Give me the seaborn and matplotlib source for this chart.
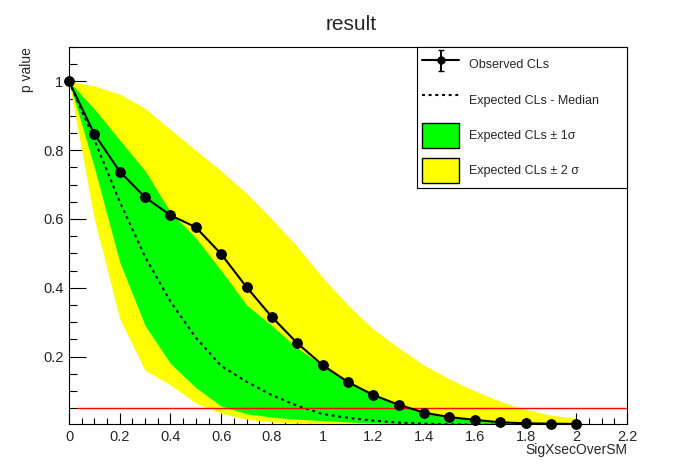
import numpy as np
import pandas as pd
import seaborn as sns
import matplotlib
matplotlib.use("Agg")
from matplotlib import pyplot as plt
from matplotlib.patches import Patch
from matplotlib.lines import Line2D
from matplotlib.legend_handler import HandlerErrorbar
from matplotlib.ticker import MultipleLocator, FuncFormatter

# values -----------------------------------------------------------------------
mu = [0.0, 0.1, 0.2, 0.3, 0.4, 0.5, 0.6, 0.7, 0.8, 0.9, 1.0,
      1.1, 1.2, 1.3, 1.4, 1.5, 1.6, 1.7, 1.8, 1.9, 2.0]
observed = [1.0, 0.847, 0.738, 0.663, 0.611, 0.576, 0.498, 0.402, 0.315, 0.239, 0.175,
            0.126, 0.088, 0.060, 0.037, 0.024, 0.016, 0.009, 0.006, 0.005, 0.004]
expected_median = [1.0, 0.83, 0.65, 0.49, 0.36, 0.255, 0.173, 0.127, 0.088, 0.057, 0.033,
                   0.022, 0.014, 0.008, 0.005, 0.003, 0.002, 0.0015, 0.001, 0.0007, 0.0005]
band_1s_low = [1.0, 0.75, 0.475, 0.29, 0.18, 0.11, 0.056, 0.034, 0.024, 0.018, 0.014,
               0.010, 0.007, 0.005, 0.003, 0.002, 0.0015, 0.001, 0.001, 0.0008, 0.0005]
band_1s_high = [1.0, 0.92, 0.83, 0.74, 0.62, 0.545, 0.45, 0.35, 0.29, 0.225, 0.175,
                0.125, 0.095, 0.060, 0.040, 0.025, 0.015, 0.009, 0.005, 0.003, 0.002]
band_2s_low = [1.0, 0.60, 0.31, 0.16, 0.118, 0.065, 0.035, 0.018, 0.010, 0.007, 0.005,
               0.004, 0.003, 0.002, 0.0015, 0.001, 0.001, 0.0008, 0.0005, 0.0004, 0.0003]
band_2s_high = [1.0, 0.987, 0.963, 0.922, 0.86, 0.80, 0.74, 0.675, 0.60, 0.52, 0.43,
                0.35, 0.28, 0.225, 0.175, 0.135, 0.10, 0.07, 0.046, 0.03, 0.02]
cl_level = 0.05

labels = ["Observed CLs", "Expected CLs - Median",
          "Expected CLs \u00b1 1\u03c3", "Expected CLs \u00b1 2 \u03c3"]

df = pd.DataFrame({"mu": mu, "obs": observed, "med": expected_median})

# style ------------------------------------------------------------------------
sns.set_style("ticks")
plt.rcParams["font.family"] = ["Liberation Sans", "DejaVu Sans"]

fig = plt.figure(figsize=(6.96, 4.72), dpi=100)
ax = fig.add_axes([69 / 696, 1 - 424 / 472, 558 / 696, 377 / 472])

ax.fill_between(df["mu"], band_2s_low, band_2s_high, color="#ffff00", lw=0)
ax.fill_between(df["mu"], band_1s_low, band_1s_high, color="#00ff00", lw=0)
sns.lineplot(data=df, x="mu", y="med", ax=ax, color="black", lw=1.5,
             linestyle=(0, (1.4, 1.8)))
ax.axhline(cl_level, xmin=0.015, color="red", lw=1)
sns.lineplot(data=df, x="mu", y="obs", ax=ax, color="black", lw=1.5,
             marker="o", markersize=7, markeredgecolor="black", clip_on=False)

ax.set_xlim(0, 2.2)
ax.set_ylim(0.004, 1.1)

fmt = FuncFormatter(lambda v, p: f"{v:g}")
ax.xaxis.set_major_locator(MultipleLocator(0.2))
ax.xaxis.set_minor_locator(MultipleLocator(0.05))
ax.yaxis.set_major_locator(MultipleLocator(0.2))
ax.yaxis.set_minor_locator(MultipleLocator(0.05))
ax.xaxis.set_major_formatter(fmt)
ax.yaxis.set_major_formatter(fmt)
ax.tick_params(which="both", direction="in", width=0.8, labelsize=10.5, color="black")
ax.tick_params(axis="x", which="major", length=8, pad=4)
ax.tick_params(axis="x", which="minor", length=4.3)
ax.tick_params(axis="y", which="major", length=12, pad=4)
ax.tick_params(axis="y", which="minor", length=6)
for s in ax.spines.values():
    s.set_color("black")
    s.set_linewidth(0.8)

ax.set_xlabel("SigXsecOverSM", fontsize=10, loc="right")
ax.set_ylabel("p value", fontsize=10, loc="top")
ax.xaxis.set_label_coords(1.0, -0.05)
ax.yaxis.set_label_coords(-0.063, 1.0)
fig.text(0.504, 1 - 24.5 / 472, "result", ha="center", va="center", fontsize=15)

# legend -----------------------------------------------------------------------
obs_h = ax.errorbar([np.nan], [np.nan], yerr=[np.nan], fmt="-o", color="black",
                    lw=1.5, ms=5, capsize=2.5, elinewidth=1.5)
med_h = Line2D([], [], color="black", lw=1.5, linestyle=(0, (1.4, 1.8)))
g_h = Patch(facecolor="#00ff00", edgecolor="black", lw=1)
y_h = Patch(facecolor="#ffff00", edgecolor="black", lw=1)
leg = ax.legend([obs_h, med_h, g_h, y_h], labels, loc="upper left",
                bbox_to_anchor=(0.624, 0.625, 0.376, 0.375), mode="expand",
                fontsize=9, frameon=True, fancybox=False, framealpha=1,
                edgecolor="black", borderpad=0.4, handlelength=2.96,
                handleheight=2.7, labelspacing=0.82, handletextpad=0.8,
                borderaxespad=0, numpoints=1,
                handler_map={type(obs_h): HandlerErrorbar(yerr_size=0.85)})
leg.get_frame().set_linewidth(0.8)

fig.savefig("out.png", dpi=100)
